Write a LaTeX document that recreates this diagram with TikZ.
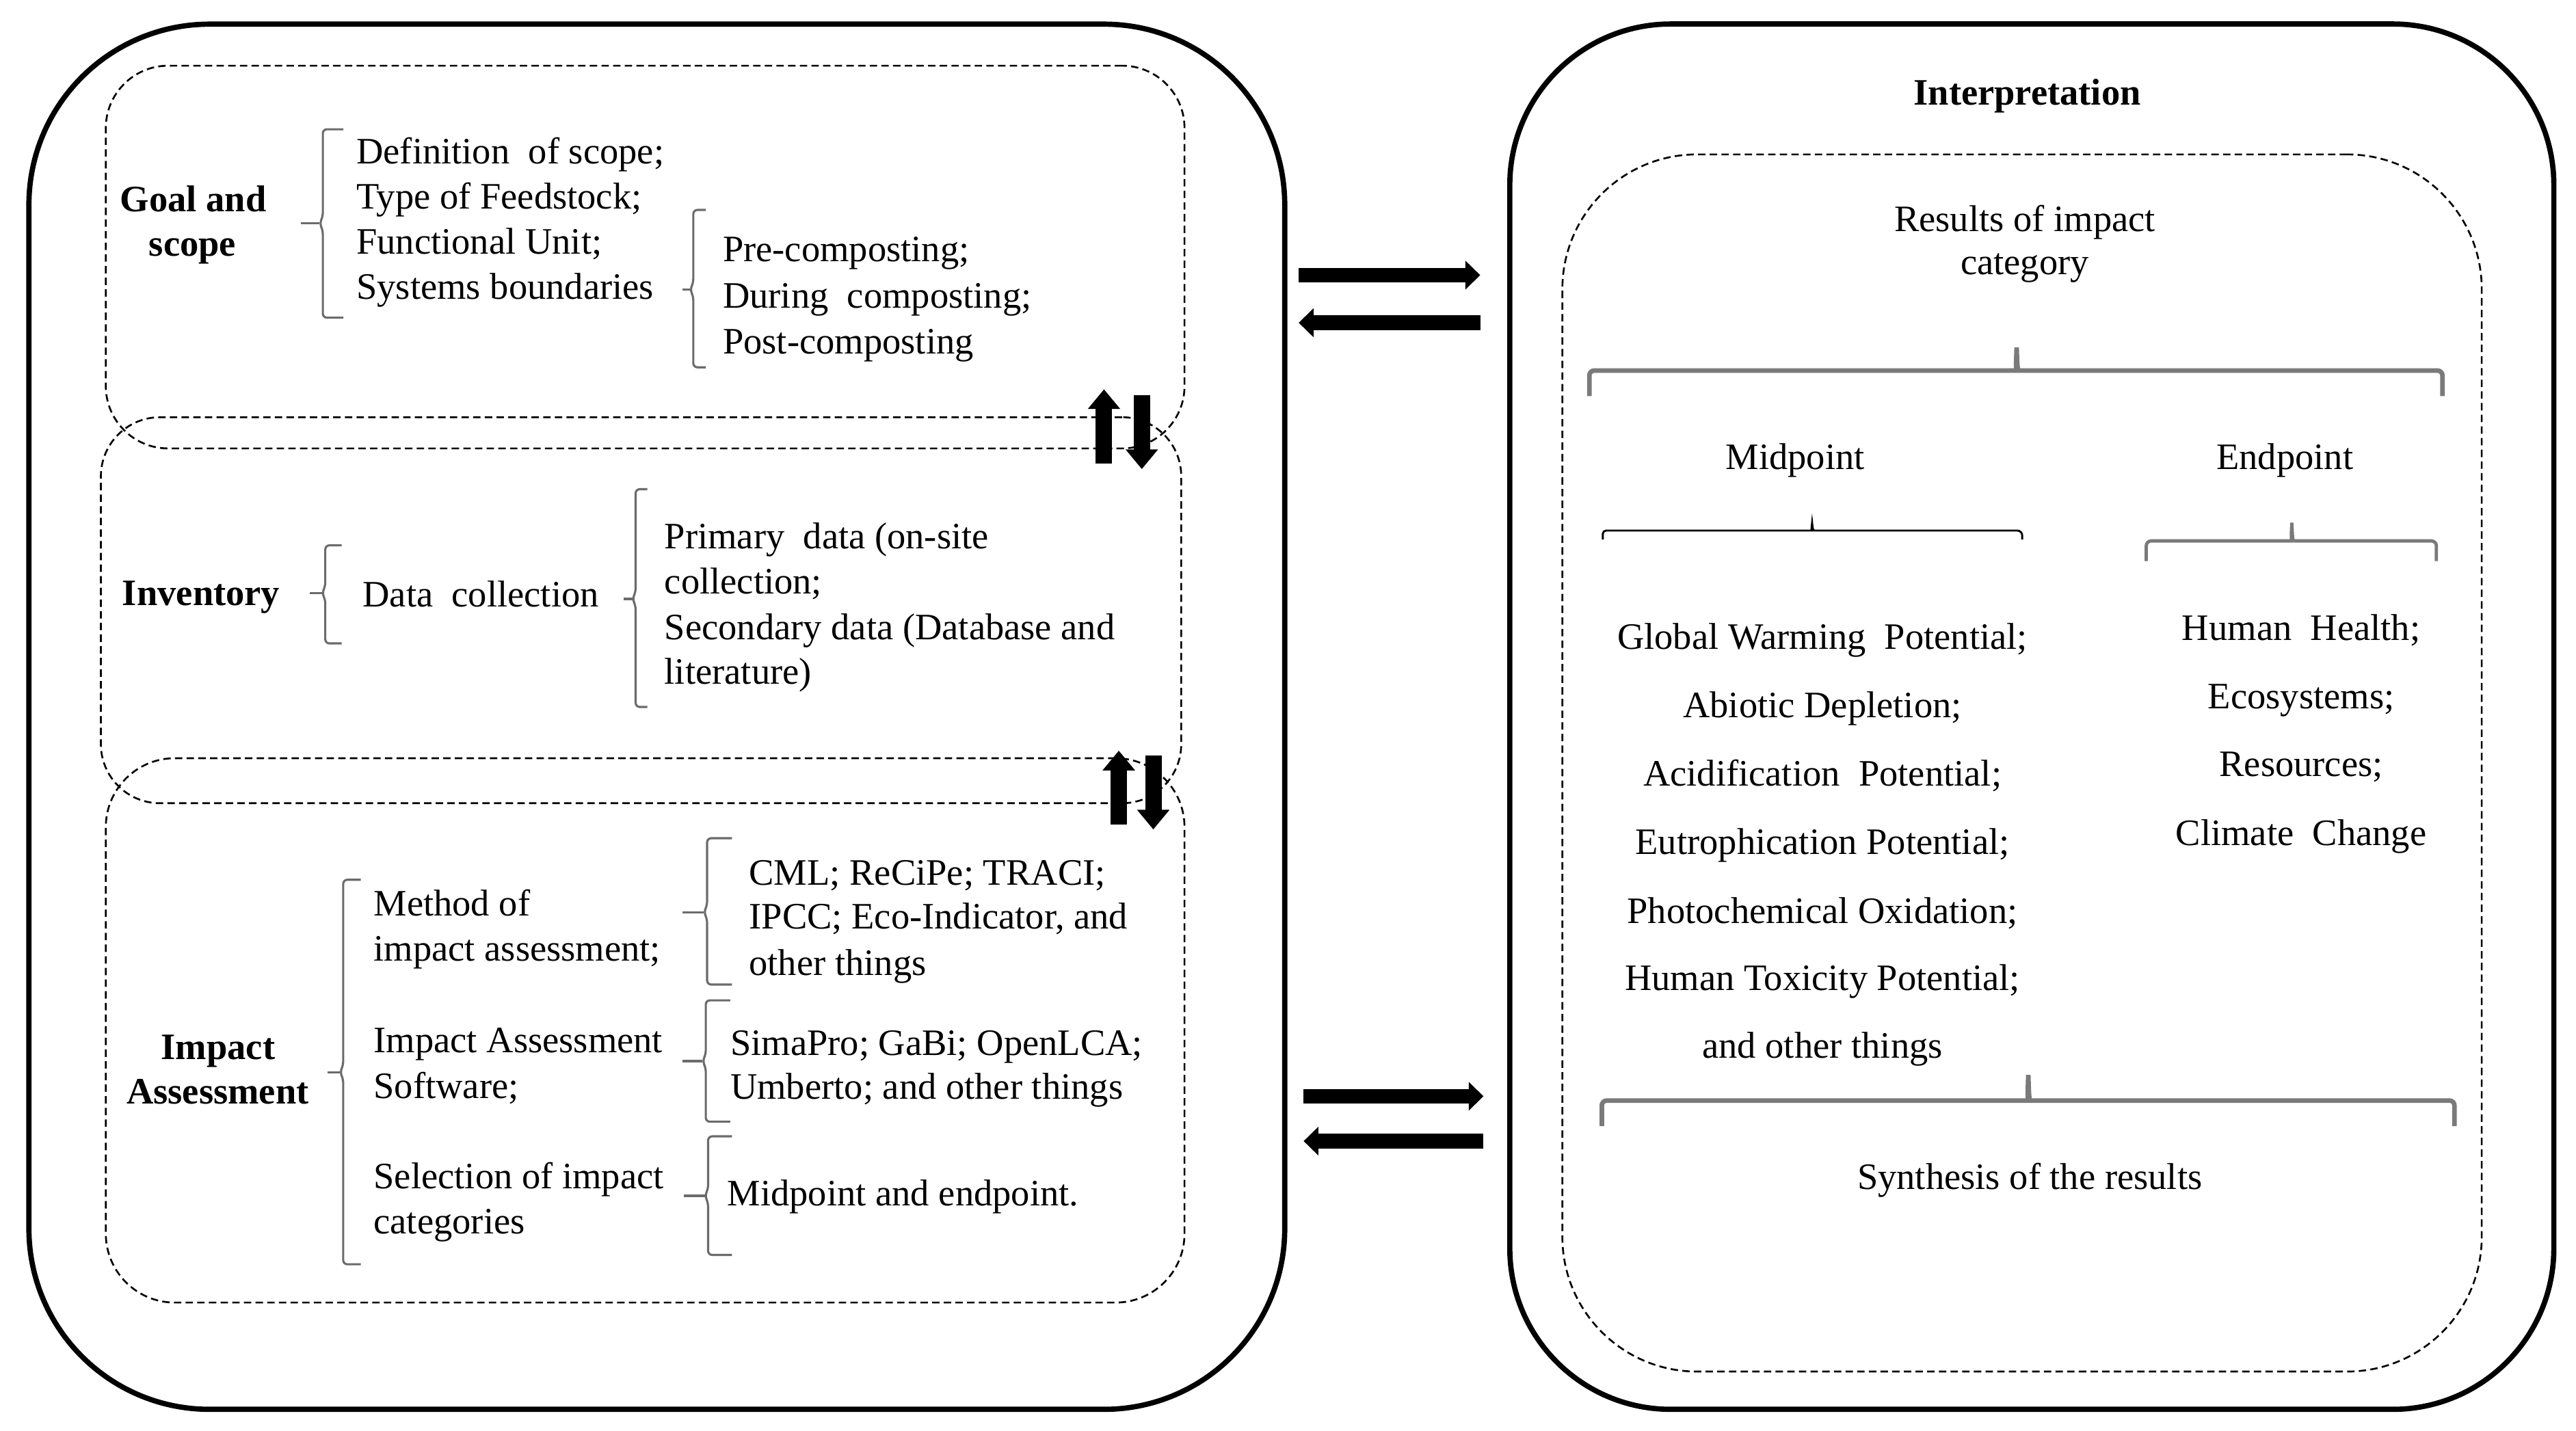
\documentclass[tikz,border=0pt]{standalone}
\usepackage{fontspec}
\setmainfont{Liberation Serif}
\usetikzlibrary{arrows.meta}
\definecolor{brkgray}{rgb}{0.42,0.42,0.42}
\definecolor{bigbrkgray}{rgb}{0.48,0.48,0.48}
\newcommand\vbrk[6]{%
  \draw[brk] (#5,#2) -- (#1,#2) -- (#1,#3-4) -- (#1-2,#3) -- (#1,#3+4) -- (#1,#4) -- (#5,#4);
  \draw[brk] (#1-2,#3) -- (#6,#3);}
\newcommand\hbrk[7]{%
  \draw[#1] (#2,#5) -- (#2,#4) -- (#6-2,#4) [sharp corners] .. controls (#6-0.5,#4) .. (#6,#7) .. controls (#6+0.5,#4) .. (#6+2,#4) [rounded corners=3pt] -- (#3,#4) -- (#3,#5);}
\begin{document}
\begin{tikzpicture}[x=1pt,y=-1pt,
  txt/.style={inner sep=0pt, outer sep=0pt, font=\fontsize{22.7}{27}\selectfont},
  lt/.style={txt, anchor=base west},
  ct/.style={txt, anchor=base},
  bt/.style={txt, anchor=base, font=\fontsize{22.7}{27}\selectfont\bfseries},
  blt/.style={txt, anchor=base west, font=\fontsize{22.7}{27}\selectfont\bfseries},
  solidbox/.style={draw, line width=3.2pt, inner sep=0pt, outer sep=0pt},
  dashbox/.style={draw, line width=1.1pt, dash pattern=on 4.5pt off 2.6pt, inner sep=0pt, outer sep=0pt},
  brk/.style={draw=brkgray, line width=1.3pt, rounded corners=2.5pt},
  bigbrk/.style={draw=bigbrkgray, line width=2.8pt, rounded corners=3pt},
  medbrk/.style={draw=bigbrkgray, line width=2pt, rounded corners=3pt},
  thinbrk/.style={draw=black, line width=1.2pt, rounded corners=2pt},
  harrow/.style={line width=9pt, -{Triangle[length=9pt,width=17pt]}},
  varrow/.style={line width=10pt, -{Triangle[length=12pt,width=19pt]}},
]
\useasboundingbox (0,0) rectangle (1568,870.8);

% outer boxes
\node[solidbox, rounded corners=110pt, minimum width=764.4pt, minimum height=843.3pt] (L) at (399.8,436.35) {};
\node[solidbox, rounded corners=98pt, minimum width=635.5pt, minimum height=843.4pt] (R) at (1236.75,436.3) {};

% dashed boxes
\node[dashbox, rounded corners=38pt, minimum width=656.6pt, minimum height=233pt] (G) at (392.7,156.5) {};
\node[dashbox, rounded corners=36pt, minimum width=657.6pt, minimum height=235pt] (I) at (390.2,371.5) {};
\node[dashbox, rounded corners=42pt, minimum width=656.6pt, minimum height=331.4pt] (A) at (392.7,627.3) {};
\node[dashbox, rounded corners=82pt, minimum width=559.6pt, minimum height=741pt] (D) at (1230.8,464.5) {};

% horizontal arrows between the two panels
\draw[harrow, shorten <=8.5pt, shorten >=18pt] (L.east |- 0,167.5) -- (R.west |- 0,167.5);
\draw[harrow, shorten <=18pt, shorten >=8.5pt] (R.west |- 0,196.5) -- (L.east |- 0,196.5);
\draw[harrow, shorten <=11.5pt, shorten >=16pt] (L.east |- 0,667.4) -- (R.west |- 0,667.4);
\draw[harrow, shorten <=16pt, shorten >=11.5pt] (R.west |- 0,694.7) -- (L.east |- 0,694.7);

% vertical arrows between the dashed boxes
\coordinate (u1s) at (672,282);  \coordinate (u1e) at (672,237);
\coordinate (d1s) at (695,240.7); \coordinate (d1e) at (695,285.6);
\coordinate (u2s) at (681,502);  \coordinate (u2e) at (681,457);
\coordinate (d2s) at (702,460);  \coordinate (d2e) at (702,505);
\draw[varrow] (u1s) -- (u1e);
\draw[varrow] (d1s) -- (d1e);
\draw[varrow] (u2s) -- (u2e);
\draw[varrow] (d2s) -- (d2e);

% left braces
\vbrk{196.5}{78.7}{136}{193.4}{209}{183}
\vbrk{422}{127.8}{176.3}{223.6}{429.6}{415.3}
\vbrk{198}{332}{361}{391.7}{208}{188.6}
\vbrk{386.9}{297.8}{364.6}{430.4}{394}{379.7}
\vbrk{208.9}{535.6}{652.7}{769.7}{219.6}{199.3}
\vbrk{430.4}{510.3}{555.3}{599.4}{445.5}{415.3}
\vbrk{429.6}{609}{646}{682.9}{444.5}{415.3}
\vbrk{431}{691.8}{728}{764}{445.5}{416.2}

% right braces
\hbrk{bigbrk}{967.4}{1486.7}{225.6}{241.2}{1227.5}{211.5}
\hbrk{thinbrk}{975.6}{1230.9}{323}{328.5}{1103}{318.2}
\hbrk{medbrk}{1306.4}{1483}{329.3}{341.6}{1395}{318.2}
\hbrk{bigbrk}{975}{1494}{670}{685.6}{1234.6}{654.4}

% Goal and scope
\node[bt] (gs1) at (117.7,129) {Goal and};
\node[bt] (gs2) at (117.2,155.7) {scope};
\node[lt] (df1) at (217,99.5) {Definition\ \ of scope;};
\node[lt] (df2) at (217,127) {Type of Feedstock;};
\node[lt] (df3) at (217,154.5) {Functional Unit;};
\node[lt] (df4) at (217,182) {Systems boundaries};
\node[lt] (pc1) at (440,159.4) {Pre-composting;};
\node[lt] (pc2) at (440,187.6) {During\ \ composting;};
\node[lt] (pc3) at (440,215.6) {Post-composting};

% Inventory
\node[blt] (inv) at (74.5,368.4) {Inventory};
\node[lt] (dc) at (220.8,369.5) {Data\ \ collection};
\node[lt] (pd1) at (404.5,334) {Primary\ \ data (on-site};
\node[lt] (pd2) at (404.5,361.4) {collection;};
\node[lt] (pd3) at (404.5,389.5) {Secondary data (Database and};
\node[lt] (pd4) at (404.5,416.5) {literature)};

% Impact assessment
\node[bt] (ia1) at (132.8,644.8) {Impact};
\node[bt] (ia2) at (132.5,672) {Assessment};
\node[lt] (mt1) at (227.5,557.5) {Method of};
\node[lt] (mt2) at (227.5,585) {impact assessment;};
\node[lt] (mt3) at (227.5,641) {Impact Assessment};
\node[lt] (mt4) at (227.5,668.5) {Software;};
\node[lt] (mt5) at (227.5,723.5) {Selection of impact};
\node[lt] (mt6) at (227.5,751) {categories};
\node[lt] (cm1) at (456,539) {CML; ReCiPe; TRACI;};
\node[lt] (cm2) at (456,565.6) {IPCC; Eco-Indicator, and};
\node[lt] (cm3) at (456,593.7) {other things};
\node[lt] (sp1) at (444.6,642.3) {SimaPro; GaBi; OpenLCA;};
\node[lt] (sp2) at (444.6,669.3) {Umberto; and other things};
\node[lt] (me) at (442.8,734) {Midpoint and endpoint.};

% Interpretation
\node[bt] (interp) at (1234,63.7) {Interpretation};
\node[ct] (rs1) at (1232.5,140.9) {Results of impact};
\node[ct] (rs2) at (1232.5,167) {category};
\node[ct] (mid) at (1092.7,285.8) {Midpoint};
\node[ct] (endp) at (1390.8,285.8) {Endpoint};
\node[ct] (ml1) at (1109.3,395.4) {Global Warming\ \ Potential;};
\node[ct] (ml2) at (1109.3,437) {Abiotic Depletion;};
\node[ct] (ml3) at (1109.3,478.4) {Acidification\ \ Potential;};
\node[ct] (ml4) at (1109.3,520) {Eutrophication Potential;};
\node[ct] (ml5) at (1109.3,562) {Photochemical Oxidation;};
\node[ct] (ml6) at (1109.3,603) {Human Toxicity Potential;};
\node[ct] (ml7) at (1109.3,644.3) {and other things};
\node[ct] (el1) at (1400.7,390) {Human\ \ Health;};
\node[ct] (el2) at (1400.7,431.5) {Ecosystems;};
\node[ct] (el3) at (1400.7,472.8) {Resources;};
\node[ct] (el4) at (1400.7,514.5) {Climate\ \ Change};
\node[ct] (syn) at (1235.5,724) {Synthesis of the results};
\end{tikzpicture}
\end{document}
